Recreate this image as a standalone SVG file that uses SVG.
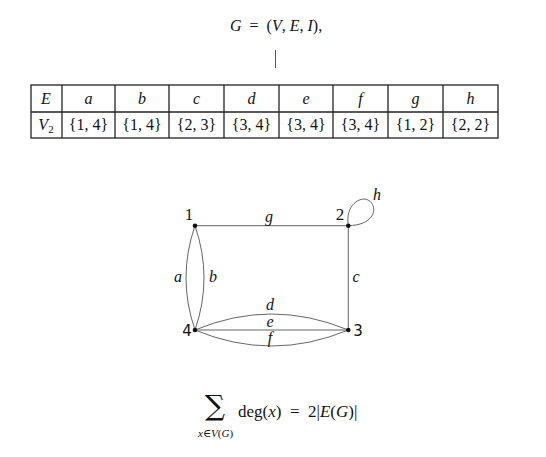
<svg xmlns="http://www.w3.org/2000/svg" width="546" height="457" viewBox="0 0 546 457">
<style>
.t{font-family:"Liberation Serif","DejaVu Serif",serif;font-size:16px;fill:#111}
.i{font-style:italic}
.c{text-anchor:middle}
.n{font-family:"Liberation Serif",serif;font-size:17px;fill:#111}
.s{font-family:"DejaVu Sans",sans-serif;font-size:15px;fill:#111}
.e{font-family:"Liberation Serif",serif;font-style:italic;font-size:16px;fill:#111;text-anchor:middle}
.tb{stroke:#222;stroke-width:1.3;fill:none}
.ed{stroke:#666;stroke-width:1;fill:none}
</style>
<rect width="546" height="457" fill="#fff"/>
<g id="title">
<text class="t" x="230" y="31" xml:space="preserve"><tspan class="i">G</tspan>  =  (<tspan class="i">V</tspan>, <tspan class="i">E</tspan>, <tspan class="i">I</tspan>),</text>
<line x1="275.5" y1="50" x2="275.5" y2="68" stroke="#555" stroke-width="1"/>
</g>
<g id="table">
<rect class="tb" x="31" y="85" width="467" height="53"/>
<line class="tb" x1="31" y1="112" x2="498" y2="112"/>
<line class="tb" x1="62" y1="85" x2="62" y2="138"/>
<line class="tb" x1="115" y1="85" x2="115" y2="138"/>
<line class="tb" x1="169" y1="85" x2="169" y2="138"/>
<line class="tb" x1="224" y1="85" x2="224" y2="138"/>
<line class="tb" x1="279" y1="85" x2="279" y2="138"/>
<line class="tb" x1="333" y1="85" x2="333" y2="138"/>
<line class="tb" x1="388" y1="85" x2="388" y2="138"/>
<line class="tb" x1="443" y1="85" x2="443" y2="138"/>
<text class="t i c" x="46" y="104">E</text>
<text class="t i c" x="88.5" y="104">a</text>
<text class="t i c" x="142" y="104">b</text>
<text class="t i c" x="196.5" y="104">c</text>
<text class="t i c" x="251.5" y="104">d</text>
<text class="t i c" x="306" y="104">e</text>
<text class="t i c" x="360.5" y="104">f</text>
<text class="t i c" x="415.5" y="104">g</text>
<text class="t i c" x="470.5" y="104">h</text>
<text class="t c" x="46" y="130"><tspan class="i">V</tspan><tspan style="font-size:11px" dy="3">2</tspan></text>
<text class="t c" x="88.5" y="130">{1, 4}</text>
<text class="t c" x="142" y="130">{1, 4}</text>
<text class="t c" x="196.5" y="130">{2, 3}</text>
<text class="t c" x="251.5" y="130">{3, 4}</text>
<text class="t c" x="306" y="130">{3, 4}</text>
<text class="t c" x="360.5" y="130">{3, 4}</text>
<text class="t c" x="415.5" y="130">{1, 2}</text>
<text class="t c" x="470.5" y="130">{2, 2}</text>
</g>
<g id="edges">
<path class="ed" d="M195,225.7 L348.3,225.7"/>
<path class="ed" d="M348.3,225.7 L348.3,330"/>
<path class="ed" d="M195,225.7 Q177,278 195,330"/>
<path class="ed" d="M195,225.7 Q213,278 195,330"/>
<path class="ed" d="M195,330 Q271.6,298 348.3,330"/>
<path class="ed" d="M195,330 L348.3,330"/>
<path class="ed" d="M195,330 Q271.6,362 348.3,330"/>
<path class="ed" d="M348.3,225.7 C345,205 360,196 368,200 C378,205 377,225 348.3,225.7"/>
<text class="e" x="269" y="222">g</text>
<text class="e" x="377" y="200">h</text>
<text class="e" x="178" y="282">a</text>
<text class="e" x="213" y="282">b</text>
<text class="e" x="356" y="282">c</text>
<text class="e" x="270" y="310">d</text>
<text class="e" x="270" y="327">e</text>
<text class="e" x="270" y="343">f</text>
</g>
<g id="node1"><circle cx="195" cy="225.7" r="2.3" fill="#111"/><text class="n c" x="189" y="220">1</text></g>
<g id="node2"><circle cx="348.3" cy="225.7" r="2.3" fill="#111"/><text class="n c" x="340" y="220">2</text></g>
<g id="node3"><circle cx="348.3" cy="330" r="2.3" fill="#111"/><text class="s c" x="358" y="336">3</text></g>
<g id="node4"><circle cx="195" cy="330" r="2.3" fill="#111"/><text class="s c" x="187" y="336">4</text></g>
<g id="formula">
<text x="205" y="415" style="font-family:'DejaVu Serif',serif;font-size:28px;fill:#111">∑</text>
<text class="t" x="238" y="417" style="font-size:17px" xml:space="preserve">deg(<tspan class="i">x</tspan>)  =  2|<tspan class="i">E</tspan>(<tspan class="i">G</tspan>)|</text>
<text class="t" x="198" y="437" style="font-size:11px"><tspan class="i">x</tspan>∈<tspan class="i">V</tspan>(<tspan class="i">G</tspan>)</text>
</g>
</svg>
